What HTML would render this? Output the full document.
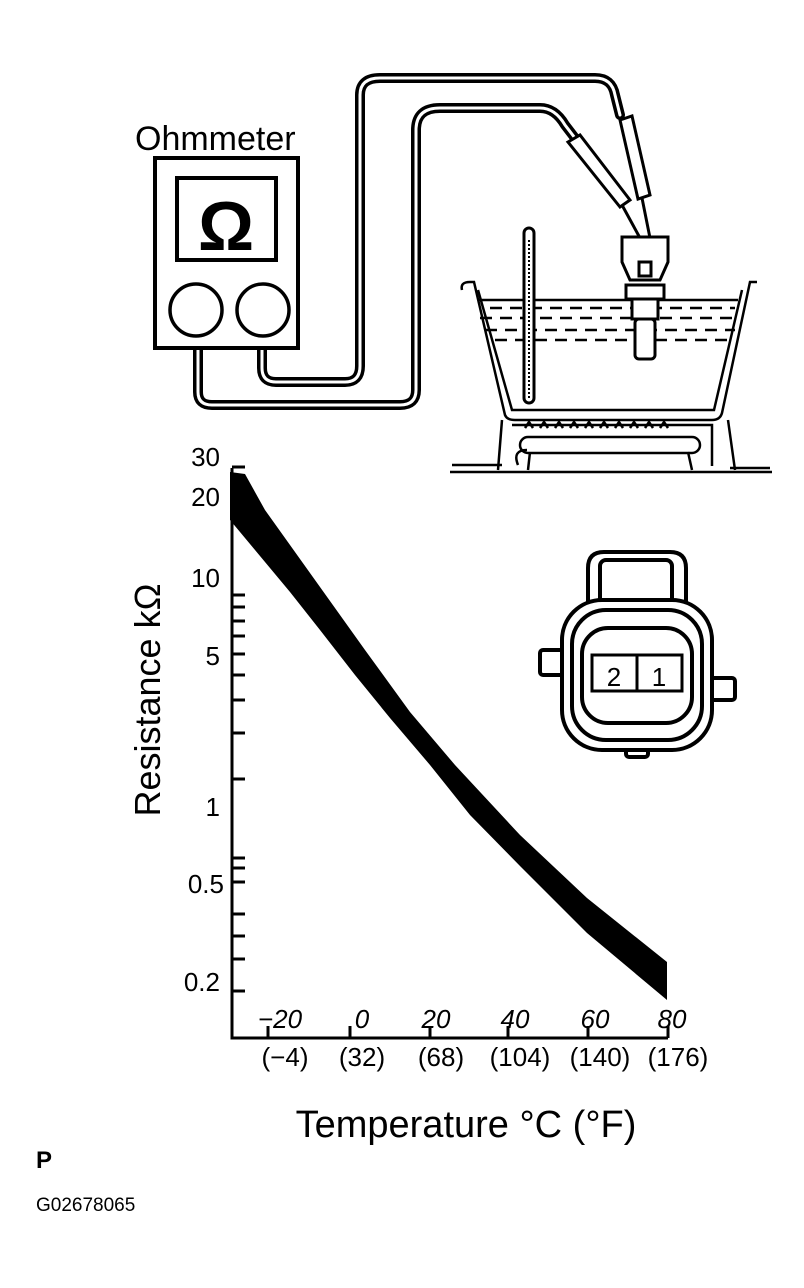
<!DOCTYPE html>
<html><head><meta charset="utf-8"><style>
html,body{margin:0;padding:0;background:#fff}
svg{display:block}
text{font-family:"Liberation Sans",sans-serif;fill:#000}
</style></head><body>
<svg width="804" height="1288" viewBox="0 0 804 1288" xmlns="http://www.w3.org/2000/svg">
<!-- wires -->
<g fill="none" stroke-linejoin="round" stroke-linecap="round">
<path d="M198,350 V392 Q198,405 212,405 H400 Q416,405 416,390 V130 Q416,108 440,108 H540 Q555,108 565,125 L578,142" stroke="#000" stroke-width="10"/>
<path d="M198,350 V392 Q198,405 212,405 H400 Q416,405 416,390 V130 Q416,108 440,108 H540 Q555,108 565,125 L578,142" stroke="#fff" stroke-width="3"/>
<path d="M262,350 V368 Q262,382 276,382 H345 Q360,382 360,366 V95 Q360,78 380,78 H595 Q612,78 615,95 L620,115" stroke="#000" stroke-width="10"/>
<path d="M262,350 V368 Q262,382 276,382 H345 Q360,382 360,366 V95 Q360,78 380,78 H595 Q612,78 615,95 L620,115" stroke="#fff" stroke-width="3"/>
</g>
<!-- probes -->
<g fill="#fff" stroke="#000" stroke-width="3">
<path d="M568,142 L580,135 L630,200 L620,207 Z"/>
<path d="M620,120 L632,116 L650,195 L638,199 Z"/>
<path d="M622,205 L640,238 M642,198 L650,238" fill="none"/>
</g>
<!-- ohmmeter -->
<text x="135" y="150" font-size="34">Ohmmeter</text>
<rect x="155" y="158" width="143" height="190" fill="#fff" stroke="#000" stroke-width="4"/>
<rect x="177" y="178" width="99" height="82" fill="#fff" stroke="#000" stroke-width="4"/>
<text x="226" y="250" font-size="70" font-weight="bold" text-anchor="middle">Ω</text>
<circle cx="196" cy="310" r="26" fill="#fff" stroke="#000" stroke-width="3.5"/>
<circle cx="263" cy="310" r="26" fill="#fff" stroke="#000" stroke-width="3.5"/>
<!-- pot -->
<g fill="none" stroke="#000" stroke-width="2.5">
<path d="M462,290 Q460,282 470,282 H474 L505,415 Q507,420 515,420 H712 Q720,420 722,413 L750,282 H757"/>
<path d="M478,290 L512,410 H714 L742,290"/>
<path d="M479,300 H738"/>
<path d="M490,308 H735 M480,318 H740 M485,330 H735 M495,340 H730" stroke-dasharray="12,8"/>
<path d="M502,420 L498,470 M728,420 L735,470 M452,465 H502 M730,468 H770 M450,472 H772"/>
<path d="M512,425 H712 V466"/>
<rect x="520" y="437" width="180" height="16" rx="8"/>
<path d="M527,450 Q512,450 518,465 M530,452 L528,470 M688,452 L692,470"/>
<path d="M525,428 l4,-6 l4,6 M540,428 l4,-6 l4,6 M555,428 l4,-6 l4,6 M570,428 l4,-6 l4,6 M585,428 l4,-6 l4,6 M600,428 l4,-6 l4,6 M615,428 l4,-6 l4,6 M630,428 l4,-6 l4,6 M645,428 l4,-6 l4,6 M660,428 l4,-6 l4,6"/>
</g>
<!-- thermometer -->
<rect x="524" y="228" width="10" height="175" rx="5" fill="#fff" stroke="#000" stroke-width="3"/>
<line x1="529" y1="240" x2="529" y2="398" stroke="#000" stroke-width="2" stroke-dasharray="2,2"/>
<!-- sensor -->
<g fill="#fff" stroke="#000" stroke-width="3">
<path d="M622,237 H668 V262 L660,280 H630 L622,262 Z"/>
<rect x="626" y="285" width="38" height="14"/>
<rect x="632" y="299" width="26" height="20"/>
<rect x="635" y="319" width="20" height="40" rx="4"/>
<rect x="639" y="262" width="12" height="14"/>
</g>
<!-- connector -->
<g fill="#fff" stroke="#000" stroke-width="4">
<path d="M588,612 V568 Q588,552 604,552 H670 Q686,552 686,568 V612"/>
<rect x="600" y="560" width="72" height="50" rx="6"/>
<rect x="540" y="650" width="30" height="25" rx="3"/>
<rect x="705" y="678" width="30" height="22" rx="3"/>
<rect x="626" y="735" width="22" height="22" rx="3"/>
<rect x="562" y="600" width="150" height="150" rx="40"/>
<rect x="572" y="610" width="130" height="130" rx="34"/>
<rect x="582" y="628" width="110" height="95" rx="26"/>
<rect x="592" y="655" width="45" height="36" stroke-width="3"/>
<rect x="637" y="655" width="45" height="36" stroke-width="3"/>
</g>
<text x="614" y="686" font-size="26" text-anchor="middle">2</text>
<text x="659" y="686" font-size="26" text-anchor="middle">1</text>
<!-- chart axes -->
<g stroke="#000" stroke-width="3" fill="none">
<path d="M232,468 V1038 H668"/>
<path d="M232,467 H245 M232,497 H245 M232,595 H245 M232,607 H245 M232,621 H245 M232,636 H245 M232,654 H245 M232,675 H245 M232,700 H245 M232,733 H245 M232,779 H245 M232,858 H245 M232,868 H245 M232,882 H245 M232,914 H245 M232,936 H245 M232,959 H245 M232,991 H245"/>
<path d="M268,1038 V1026 M350,1038 V1026 M430,1038 V1026 M508,1038 V1026 M588,1038 V1026 M668,1038 V1026"/>
</g>
<path d="M230,472 L245,474 L265,510 L290,545 L320,587 L365,650 L410,712 L455,765 L520,835 L587,898 L667,962 L667,1000 L587,933 L520,866 L470,815 L430,765 L390,718 L355,675 L320,630 L290,592 L255,550 L230,520 Z" fill="#000"/>
<g font-size="26" text-anchor="end">
<text x="220" y="466">30</text>
<text x="220" y="506">20</text>
<text x="220" y="587">10</text>
<text x="220" y="665">5</text>
<text x="220" y="816">1</text>
<text x="224" y="893">0.5</text>
<text x="220" y="991">0.2</text>
</g>
<g font-size="26" font-style="italic" text-anchor="middle">
<text x="280" y="1028">−20</text>
<text x="362" y="1028">0</text>
<text x="436" y="1028">20</text>
<text x="515" y="1028">40</text>
<text x="595" y="1028">60</text>
<text x="672" y="1028">80</text>
</g>
<g font-size="26" text-anchor="middle">
<text x="285" y="1066">(−4)</text>
<text x="362" y="1066">(32)</text>
<text x="441" y="1066">(68)</text>
<text x="520" y="1066">(104)</text>
<text x="600" y="1066">(140)</text>
<text x="678" y="1066">(176)</text>
</g>
<text transform="translate(160,700) rotate(-90)" font-size="36" text-anchor="middle">Resistance kΩ</text>
<text x="466" y="1137" font-size="38" text-anchor="middle">Temperature °C (°F)</text>
<text x="36" y="1168" font-size="24" font-weight="bold">P</text>
<text x="36" y="1211" font-size="19">G02678065</text>
</svg>
</body></html>
